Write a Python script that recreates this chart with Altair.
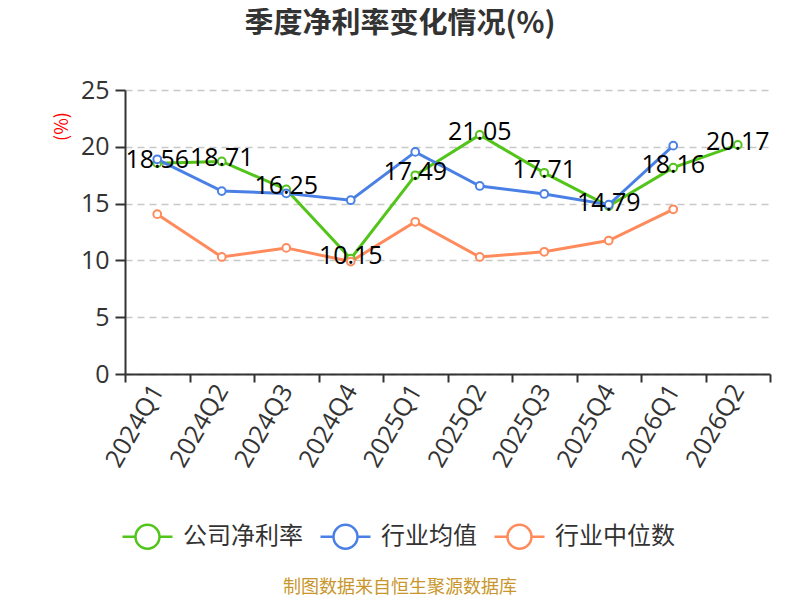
import altair as alt
import pandas as pd

quarters = ["2024Q1", "2024Q2", "2024Q3", "2024Q4", "2025Q1", "2025Q2",
            "2025Q3", "2025Q4", "2026Q1", "2026Q2"]
company = [18.56, 18.71, 16.25, 10.15, 17.49, 21.05, 17.71, 14.79, 18.16, 20.17]
ind_mean = [18.9, 16.1, 15.9, 15.3, 19.55, 16.55, 15.85, 14.9, 20.1]
ind_median = [14.07, 10.3, 11.1, 9.9, 13.4, 10.3, 10.76, 11.75, 14.5]
series_names = ["公司净利率", "行业均值", "行业中位数"]
series_colors = ["#52C41A", "#4A80E6", "#FF8A5B"]
title_text = "季度净利率变化情况(%)"
source_text = "制图数据来自恒生聚源数据库"

rows = []
for name, vals in zip(series_names, [company, ind_mean, ind_median]):
    for q, v in zip(quarters, vals):
        rows.append({"quarter": q, "series": name, "value": v})
df = pd.DataFrame(rows)
df_company = df[df["series"] == series_names[0]].copy()
df_company["label"] = df_company["value"].map(lambda v: f"{v:.2f}")

FONT = "Noto Sans CJK SC"
NUMFONT = "Open Sans"

legend_path = ("M-1,0L-0.48,0M0.48,0L1,0"
               "M-0.48,0A0.48,0.48,0,1,1,0.48,0A0.48,0.48,0,1,1,-0.48,0Z")

x_enc = alt.X(
    "quarter:N", sort=quarters, bandPosition=0.5,
    scale=alt.Scale(type="band", paddingInner=0, paddingOuter=0),
    axis=alt.Axis(title=None, tickBand="extent", labelAngle=-60, labelAlign="right",
                  labelBaseline="middle", labelFontSize=25, labelColor="#333333",
                  labelFont=NUMFONT, labelPadding=4, tickSize=8, tickColor="#333333",
                  tickWidth=2, domainColor="#333333", domainWidth=2, grid=False),
)
y_enc = alt.Y(
    "value:Q", scale=alt.Scale(domain=[0, 25]),
    axis=alt.Axis(title="(%)", values=[0, 5, 10, 15, 20, 25], labelFontSize=25,
                  labelColor="#333333", labelFont=NUMFONT, labelPadding=6,
                  tickSize=10, tickColor="#333333",
                  tickWidth=2, domainColor="#333333", domainWidth=2,
                  grid=True, gridColor="#c8c8c8", gridDash=[7, 5], gridWidth=1.5,
                  titleColor="#ff0000", titleFontSize=18, titleFont=FONT,
                  titleFontWeight="normal", titleAngle=-90, titleAlign="center",
                  titleBaseline="middle", titleX=-63, titleY=36),
)
color_enc = alt.Color(
    "series:N", sort=series_names,
    scale=alt.Scale(domain=series_names, range=series_colors),
    legend=alt.Legend(title=None, orient="none", direction="horizontal",
                      legendX=-4, legendY=420, symbolType=legend_path,
                      symbolSize=2500, symbolStrokeWidth=2.5, symbolFillColor="white",
                      labelFontSize=24, labelFont=FONT, labelColor="#333333",
                      labelOffset=9, columnPadding=12, symbolOffset=0),
)

base = alt.Chart(df)
lines = base.mark_line(strokeWidth=3).encode(x=x_enc, y=y_enc, color=color_enc)
points = base.mark_point(filled=True, fill="white", size=60, strokeWidth=2, opacity=1).encode(
    x=x_enc, y=y_enc,
    stroke=alt.Stroke("series:N", scale=alt.Scale(domain=series_names, range=series_colors), legend=None)
)
labels = alt.Chart(df_company).mark_text(fontSize=25, font=NUMFONT, color="#000000",
                                         baseline="middle", dy=-3).encode(
    x=x_enc, y=y_enc, text="label:N")
title = alt.Chart(pd.DataFrame({"t": [title_text]})).mark_text(
    fontSize=29, font=FONT, fontWeight="bold", color="#333333", align="center",
    baseline="middle"
).encode(x=alt.value(275), y=alt.value(-66), text="t:N")
source = alt.Chart(pd.DataFrame({"t": [source_text]})).mark_text(
    fontSize=18, font=FONT, color="#C9962B", align="center", baseline="middle"
).encode(x=alt.value(275), y=alt.value(498), text="t:N")

chart = alt.layer(lines, points, labels, title, source).properties(
    width=645, height=284,
    autosize=alt.AutoSizeParams(type="none"),
    padding={"left": 117, "top": 82, "right": 22, "bottom": 224},
).configure_view(stroke=None)

chart.save("out.html", embed_options={"renderer": "svg", "actions": False})
